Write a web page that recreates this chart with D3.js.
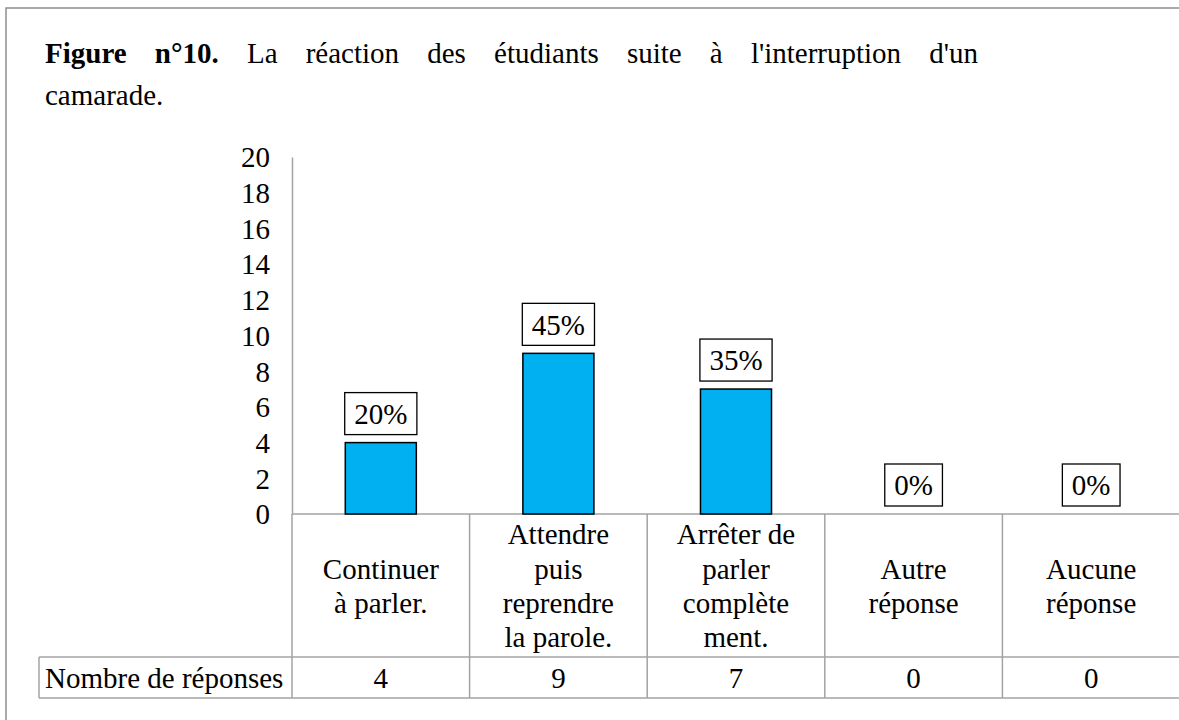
<!DOCTYPE html>
<html>
<head>
<meta charset="utf-8">
<script src="https://cdn.jsdelivr.net/npm/d3@7"></script>
<style>
  html, body { margin: 0; padding: 0; background: #fff; }
  svg { display: block; }
  svg text { font-family: 'Liberation Serif', 'Times New Roman', Times, 'DejaVu Serif', serif !important; fill: #000; }
</style>
</head>
<body>
<svg id="chart" width="1179" height="720"></svg>
<script>
// ---- data ----
const categories = [
  ["Continuer", "à parler."],
  ["Attendre", "puis", "reprendre", "la parole."],
  ["Arrêter de", "parler", "complète", "ment."],
  ["Autre", "réponse"],
  ["Aucune", "réponse"]
];
const responseCounts = [4, 9, 7, 0, 0];
const percentLabels = ["20%", "45%", "35%", "0%", "0%"];
const yTicks = [0, 2, 4, 6, 8, 10, 12, 14, 16, 18, 20];
const rowLabel = "Nombre de réponses";
const titleBold = "Figure n°10.";
const titleLine1 = "La réaction des étudiants suite à l'interruption d'un";
const titleLine2 = "camarade.";

// ---- layout ----
const W = 1179, H = 720;
const FS = 29;
const FONT = "'Liberation Serif', 'Times New Roman', Times, serif";
const plotLeft = 292, catW = 177.6;
const yZero = 514, yTop = 157;
const tableTop = yZero, rowTop = 657, rowBottom = 698, tableLeft = 39;
const gridColor = "#a3a3a3";

const svg = d3.select("#chart").attr("font-family", FONT);

// frame
svg.append("rect").attr("x", 6).attr("y", 8).attr("width", W + 20).attr("height", H + 20)
  .attr("fill", "#fff").attr("stroke", "#8f8f8f").attr("stroke-width", 1.5);

function txt(sel) { return sel.append("text").attr("font-family", FONT).attr("font-size", FS); }

// ---- title (justified first line) ----
const words1 = titleBold.split(" ").map(t => ({t, b: true}))
  .concat(titleLine1.split(" ").map(t => ({t, b: false})));
const tLeft = 45, tRight = 978, tBase1 = 63, tBase2 = 105;
const tg = svg.append("g");
const wNodes = words1.map(w => txt(tg).attr("y", tBase1)
  .attr("font-weight", w.b ? "bold" : "normal").text(w.t));
const widths = wNodes.map(n => n.node().getComputedTextLength());
const gap = (tRight - tLeft - d3.sum(widths)) / (words1.length - 1);
let cx = tLeft;
wNodes.forEach((n, i) => { n.attr("x", cx); cx += widths[i] + gap; });
txt(tg).attr("x", tLeft).attr("y", tBase2).text(titleLine2);

// ---- scales ----
const idx = categories.map((d, i) => i);
const x = d3.scaleBand().domain(idx).range([plotLeft, plotLeft + catW * categories.length]).padding(0);
const y = d3.scaleLinear().domain([0, 20]).range([yZero, yTop]);
const barW = x.bandwidth() * 0.4;

// ---- y axis ----
const yAxis = d3.axisLeft(y).tickValues(yTicks).tickSize(0).tickPadding(22);
const ga = svg.append("g").attr("transform", `translate(${plotLeft},0)`).call(yAxis)
  .attr("font-family", FONT).attr("font-size", FS);
ga.select(".domain").attr("stroke", gridColor).attr("stroke-width", 1.5);
ga.selectAll(".tick text").attr("font-size", FS).attr("font-family", FONT)
  .attr("fill", "#000").attr("dy", "0.34em");

// ---- table lines ----
const tl = svg.append("g").attr("stroke", gridColor).attr("stroke-width", 1.5);
tl.append("line").attr("x1", plotLeft).attr("x2", W + 5).attr("y1", tableTop).attr("y2", tableTop);
tl.append("line").attr("x1", tableLeft).attr("x2", W + 5).attr("y1", rowTop).attr("y2", rowTop);
tl.append("line").attr("x1", tableLeft).attr("x2", W + 5).attr("y1", rowBottom).attr("y2", rowBottom);
tl.append("line").attr("x1", tableLeft).attr("x2", tableLeft).attr("y1", rowTop).attr("y2", rowBottom);
idx.concat([categories.length]).forEach(i => {
  const xx = i < categories.length ? x(i) : x(categories.length - 1) + x.bandwidth();
  tl.append("line").attr("x1", xx).attr("x2", xx).attr("y1", tableTop).attr("y2", rowBottom);
});

// ---- bars ----
svg.append("g").selectAll("rect").data(responseCounts).join("rect")
  .attr("x", (d, i) => x(i) + (x.bandwidth() - barW) / 2)
  .attr("y", d => y(d))
  .attr("width", barW)
  .attr("height", d => y(0) - y(d))
  .attr("fill", "#00b0f0")
  .attr("stroke", "#000").attr("stroke-width", 1.5)
  .style("display", d => d > 0 ? null : "none");

// ---- percent label boxes ----
const lg = svg.append("g");
percentLabels.forEach((p, i) => {
  const g = lg.append("g");
  const cxm = x(i) + x.bandwidth() / 2;
  const bottom = y(responseCounts[i]) - 8;
  const rect = g.append("rect");
  const t = txt(g).attr("x", cxm).attr("y", bottom - 21).attr("dy", "0.35em")
    .attr("text-anchor", "middle").text(p);
  const tw = t.node().getComputedTextLength();
  rect.attr("x", cxm - tw / 2 - 9.5).attr("y", bottom - 42).attr("width", tw + 19).attr("height", 42)
    .attr("fill", "#fff").attr("stroke", "#000").attr("stroke-width", 1.3);
});

// ---- category labels ----
const lineH = 34.3;
const cellMid = (tableTop + rowTop) / 2;
categories.forEach((lines, i) => {
  const cxm = x(i) + x.bandwidth() / 2;
  const start = cellMid - (lines.length - 1) * lineH / 2;
  lines.forEach((ln, j) => {
    txt(svg).attr("x", cxm).attr("y", start + j * lineH).attr("dy", "0.35em")
      .attr("text-anchor", "middle").text(ln);
  });
});

// ---- data row ----
const rowMid = (rowTop + rowBottom) / 2;
txt(svg).attr("x", 45).attr("y", rowMid).attr("dy", "0.35em").text(rowLabel);
responseCounts.forEach((v, i) => {
  txt(svg).attr("x", x(i) + x.bandwidth() / 2).attr("y", rowMid).attr("dy", "0.35em")
    .attr("text-anchor", "middle").text(v);
});
</script>
</body>
</html>
